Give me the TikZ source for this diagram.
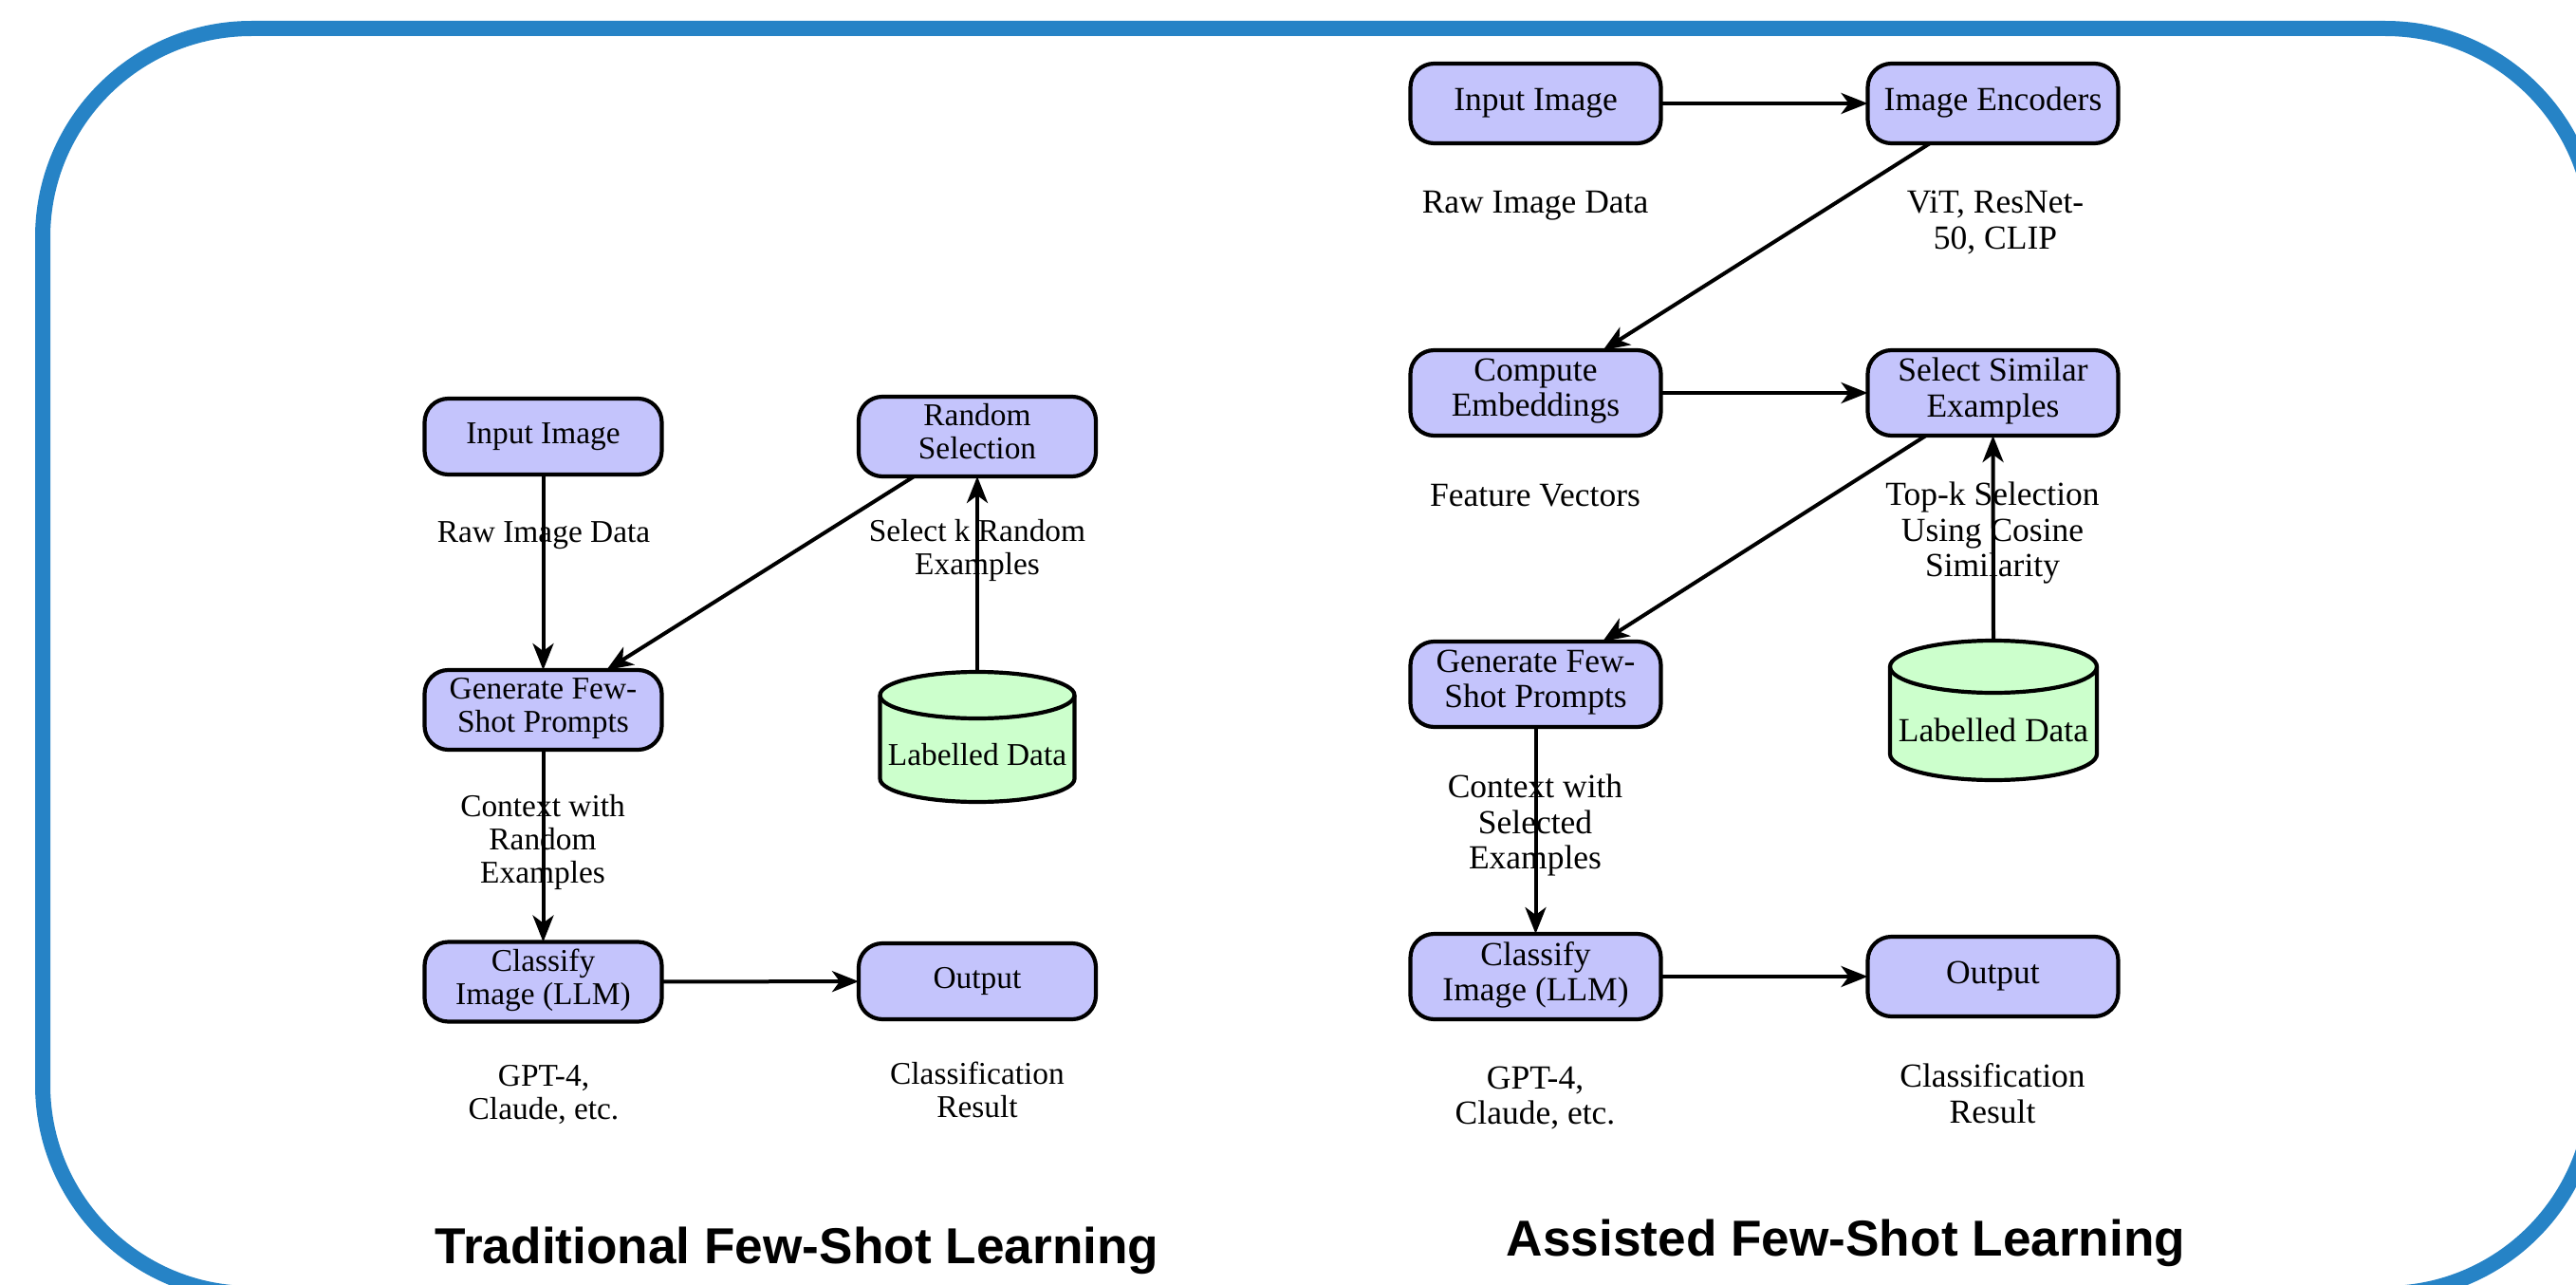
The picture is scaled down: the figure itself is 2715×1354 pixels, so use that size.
\documentclass[tikz,border=0pt]{standalone}
\usepackage{fontspec}
\setmainfont{Liberation Serif}
\newfontfamily\titlefont{Liberation Sans}
\usetikzlibrary{arrows.meta}
\definecolor{framecol}{RGB}{38,131,198}
\definecolor{boxfill}{RGB}{196,196,252}
\definecolor{cylfill}{RGB}{204,255,204}
\newcommand{\lfont}{\fontsize{16.7}{17.5}\selectfont}
\newcommand{\rfont}{\fontsize{17.75}{18.75}\selectfont}
\begin{document}
\begin{tikzpicture}[x=0.5pt,y=-0.5pt,
  basebox/.style={draw=black, line width=2.1pt, fill=boxfill, rounded corners=12.5pt,
    align=center, inner sep=2pt, outer sep=0pt,
    execute at begin node=\strut, execute at end node=\strut},
  lbox/.style={basebox, minimum width=125pt, minimum height=40pt, font=\lfont},
  lboxtwo/.style={lbox, minimum height=42pt},
  rbox/.style={basebox, minimum width=132pt, minimum height=42pt, font=\rfont},
  rboxtwo/.style={rbox, minimum height=45pt},
  llab/.style={align=center, inner sep=0pt, font=\lfont,
    execute at begin node=\strut, execute at end node=\strut},
  rlab/.style={llab, font=\rfont},
  cylnode/.style={draw=none, inner sep=0pt, outer sep=0pt},
  cylshape/.style={fill=cylfill, draw=black, line width=2.1pt},
  arr/.style={line width=2pt, -{Stealth[length=14pt,width=11pt,inset=4pt]}},
  frame/.style={draw=framecol, line width=8pt, rounded corners=110pt},
  titletext/.style={anchor=base, inner sep=0pt, font=\titlefont\bfseries\fontsize{26.6}{30}\selectfont}
]
\useasboundingbox (0,0) rectangle (2715,1354);
\fill[white] (0,0) rectangle (2715,1354);
\clip (0,0) rectangle (2715,1354);

% frame
\draw[frame] (45,30) rectangle (2734,1363);

% ---------------- Left: Traditional ----------------
\node[lbox] (in1) at (572.5,460) {Input Image};
\node[lboxtwo] (rs) at (1030,460) {Random\\Selection};
\node[lboxtwo] (gen) at (572.5,748) {Generate Few-\\Shot Prompts};
\node[lboxtwo] (cls) at (572.5,1034.5) {Classify\\Image (LLM)};
\node[lbox] (out) at (1030,1034) {Output};

\node[cylnode, minimum width=102.5pt, minimum height=68.5pt] (cyl) at (1030,776.5) {};
\path[cylshape] ([yshift=-12.25pt]cyl.north west) -- ([yshift=12.25pt]cyl.south west)
  arc[start angle=180, end angle=360, x radius=51.25pt, y radius=12.25pt]
  -- ([yshift=-12.25pt]cyl.north east)
  arc[start angle=0, end angle=180, x radius=51.25pt, y radius=12.25pt] -- cycle;
\draw[line width=2.1pt] ([yshift=-12.25pt]cyl.north west)
  arc[start angle=180, end angle=360, x radius=51.25pt, y radius=12.25pt];
\node[llab] (cyltxt) at (1030,799) {Labelled Data};

\node[llab] (raw) at (573,564) {Raw Image Data};
\node[llab] (selk) at (1030,581.5) {Select k Random\\Examples};
\node[llab] (ctx) at (572,889) {Context with\\Random\\Examples};
\node[llab] (gpt) at (573,1156.5) {GPT-4,\\Claude, etc.};
\node[llab] (res) at (1030,1153.5) {Classification\\Result};

\draw[arr] (in1) -- (gen);
\draw[arr] (rs) -- (gen);
\draw[arr] (cyl.north) -- (rs.south);
\draw[arr] (gen) -- (cls);
\draw[arr] (cls) -- (out);

\node[titletext] (t1) at (840,1331) {Traditional Few-Shot Learning};

% ---------------- Right: Assisted ----------------
\node[rbox] (rin) at (1618.5,109) {Input Image};
\node[rbox] (enc) at (2100.5,109) {Image Encoders};
\node[rboxtwo] (cmp) at (1618.5,414) {Compute\\Embeddings};
\node[rboxtwo] (sel) at (2100.5,414) {Select Similar\\Examples};
\node[rboxtwo] (rgen) at (1618.5,721) {Generate Few-\\Shot Prompts};
\node[rboxtwo] (rcls) at (1618.5,1029) {Classify\\Image (LLM)};
\node[rbox] (rout) at (2100.5,1029) {Output};

\node[cylnode, minimum width=109pt, minimum height=73.5pt] (rcyl) at (2101,748.5) {};
\path[cylshape] ([yshift=-13.75pt]rcyl.north west) -- ([yshift=13.75pt]rcyl.south west)
  arc[start angle=180, end angle=360, x radius=54.5pt, y radius=13.75pt]
  -- ([yshift=-13.75pt]rcyl.north east)
  arc[start angle=0, end angle=180, x radius=54.5pt, y radius=13.75pt] -- cycle;
\draw[line width=2.1pt] ([yshift=-13.75pt]rcyl.north west)
  arc[start angle=180, end angle=360, x radius=54.5pt, y radius=13.75pt];
\node[rlab] (rcyltxt) at (2101,774) {Labelled Data};

\node[rlab] (rraw) at (1618,217) {Raw Image Data};
\node[rlab] (vit) at (2103,237.5) {ViT, ResNet-\\50, CLIP};
\node[rlab] (feat) at (1618,526) {Feature Vectors};
\node[rlab] (topk) at (2100,563.5) {Top-k Selection\\Using Cosine\\Similarity};
\node[rlab] (rctx) at (1618,871.5) {Context with\\Selected\\Examples};
\node[rlab] (rgpt) at (1618,1160) {GPT-4,\\Claude, etc.};
\node[rlab] (rres) at (2100,1157.5) {Classification\\Result};

\draw[arr] (rin) -- (enc);
\draw[arr] (enc) -- (cmp);
\draw[arr] (cmp) -- (sel);
\draw[arr] (sel) -- (rgen);
\draw[arr] (rcyl.north) -- (sel.south);
\draw[arr] (rgen) -- (rcls);
\draw[arr] (rcls) -- (rout);

\node[titletext] (t2) at (1945.5,1323) {Assisted Few-Shot Learning};
\end{tikzpicture}
\end{document}
